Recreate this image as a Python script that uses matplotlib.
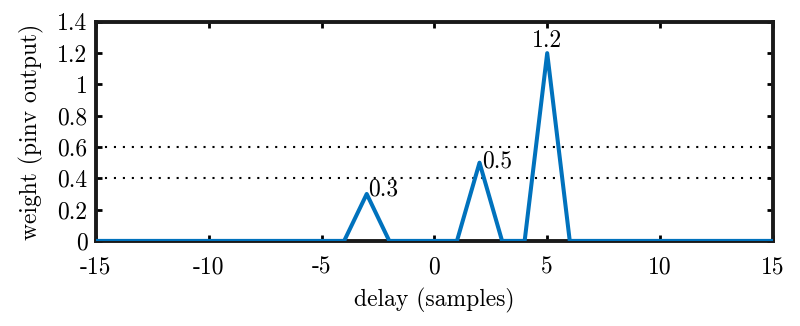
import matplotlib
matplotlib.use("Agg")
import matplotlib.pyplot as plt
import numpy as np

# delay axis and pinv weights (only three taps are non-zero)
delays = np.arange(-15, 16)
tap_delays = [-3, 2, 5]
tap_weights = [0.3, 0.5, 1.2]
tap_labels = ['0.3', '0.5', '1.2']
thresholds = [0.4, 0.6]

weights = np.zeros(len(delays))
for d, w in zip(tap_delays, tap_weights):
    weights[delays == d] = w

xticks = [-15, -10, -5, 0, 5, 10, 15]
yticks = [0, 0.2, 0.4, 0.6, 0.8, 1, 1.2, 1.4]

plt.rcParams['font.family'] = ['cmr10', 'DejaVu Serif']
plt.rcParams['font.size'] = 17

fig = plt.figure(figsize=(8, 3.26), dpi=100)
ax = fig.add_axes([0.12, 0.261, 0.846, 0.672])

for t in thresholds:
    ax.axhline(t, color='black', linestyle=(0, (1, 3.3)), linewidth=1.5)

ax.plot(delays, weights, color='#0072BD', linewidth=2.9, zorder=3)

ax.text(tap_delays[0] + 0.05, tap_weights[0] - 0.04, tap_labels[0], ha='left', va='bottom')
ax.text(tap_delays[1] + 0.1, tap_weights[1] - 0.06, tap_labels[1], ha='left', va='bottom')
ax.text(tap_delays[2], tap_weights[2] + 0.01, tap_labels[2], ha='center', va='bottom')

ax.set_xlim(-15, 15)
ax.set_ylim(0, 1.4)
ax.set_xticks(xticks)
ax.set_xticklabels([str(v) for v in xticks])
ax.set_yticks(yticks)
ax.set_yticklabels(['0', '0.2', '0.4', '0.6', '0.8', '1', '1.2', '1.4'])
ax.tick_params(direction='in', length=4, width=2, top=True, right=True)
ax.tick_params(axis='x', pad=11)
ax.tick_params(axis='y', pad=6)
for s in ax.spines.values():
    s.set_linewidth(2.8)
    s.set_color('#1a1a1a')

ax.set_xlabel('delay (samples)', labelpad=7)
ax.set_ylabel('weight (pinv output)', labelpad=10)

fig.savefig('out.png', dpi=100)
